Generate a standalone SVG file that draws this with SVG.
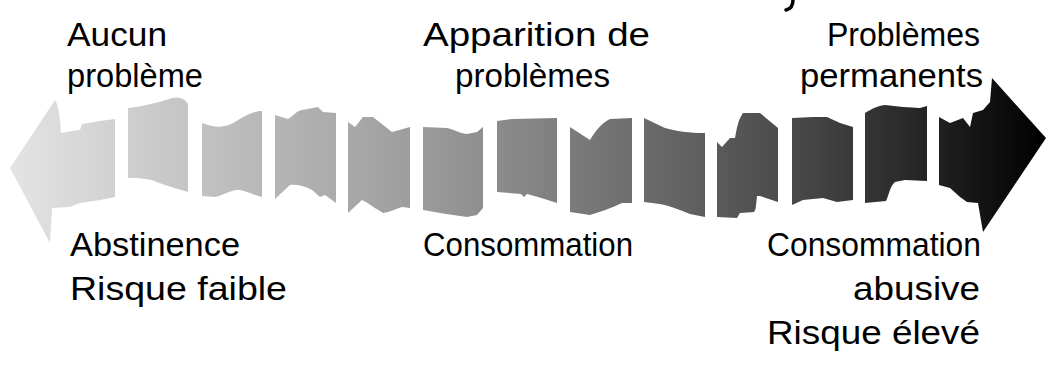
<svg xmlns="http://www.w3.org/2000/svg" width="1046" height="368" viewBox="0 0 1046 368">
  <defs>
    <linearGradient id="grad" gradientUnits="userSpaceOnUse" x1="10" y1="0" x2="1046" y2="0">
      <stop offset="0" stop-color="#e4e4e4"/>
      <stop offset="0.145" stop-color="#c9c9c9"/>
      <stop offset="0.357" stop-color="#a3a3a3"/>
      <stop offset="0.502" stop-color="#858585"/>
      <stop offset="0.642" stop-color="#646464"/>
      <stop offset="0.78" stop-color="#434343"/>
      <stop offset="0.857" stop-color="#2c2c2c"/>
      <stop offset="1" stop-color="#000000"/>
    </linearGradient>
    <style>
      .seg { fill: url(#grad); stroke: none; }
      .t { font-family: "Liberation Sans", Arial, sans-serif; font-size: 34px; fill: #000; }
    </style>
  </defs>
  <rect width="1046" height="368" fill="#ffffff"/>

  <g id="arrow">
    <path class="seg" d="M55,100 C58,104 60,115 61,133 L72,131 L80,130 L82,124 L100,121 L115,119 L115,197 L100,200 L80,203 L70,207 L52,208 L50,243 L10,168 Z"/>
    <path class="seg" d="M128,108 C145,106 160,102 172,98 C180,96 186,100 188,104 L188,192 C175,188 160,184 152,180 L138,178 L128,178 Z"/>
    <path class="seg" d="M202,123 C215,128 225,128 235,122 C245,115 255,111 262,111 L262,197 C250,194 245,190 238,190 C230,190 222,196 215,197 L202,196 Z"/>
    <path class="seg" d="M275,115 L288,119 C292,117 296,111 302,110 L318,107 L323,112 L336,113 L336,203 L325,195 L320,197 L312,190 C305,186 296,184 290,185 L275,199 Z"/>
    <path class="seg" d="M348,122 L355,127 L363,117 L373,117 L392,132 L410,127 L410,208 L402,207 C395,209 390,212 383,213 C378,210 372,206 366,202 L362,200 L348,213 Z"/>
    <path class="seg" d="M423,127 L447,128 C455,130 462,134 467,134 L477,132 L483,127 L483,208 L477,215 L467,217 C458,216 448,214 440,213 L423,210 Z"/>
    <path class="seg" d="M497,121 L512,119 L557,118 L557,203 C545,199 535,196 527,194 L524,197 L521,194 L497,192 Z"/>
    <path class="seg" d="M570,127 L590,140 C595,132 600,124 610,119 L632,118 L632,203 L622,203 C612,208 600,212 590,215 L570,212 Z"/>
    <path class="seg" d="M644,118 L665,128 C675,131 690,133 705,133 L705,217 L690,214 C680,210 670,206 660,204 L644,202 Z"/>
    <path class="seg" d="M717,142 L722,147 L730,138 L735,138 C737,128 738,120 743,113 L760,113 L778,128 L778,202 L760,196 L757,196 C756,205 756,210 754,212 L740,213 L737,218 L717,217 Z"/>
    <path class="seg" d="M792,118 L813,117 L827,117 L840,123 L853,127 L853,200 L837,202 L823,198 L803,200 L792,205 Z"/>
    <path class="seg" d="M865,113 C870,110 876,106 885,105 L903,107 L920,108 L927,106 L927,181 L905,180 L895,182 C890,186 889,195 886,201 L865,203 Z"/>
    <path class="seg" d="M939,117 L950,123 L963,118 L970,127 L973,113 L983,110 L990,102 L992,78 L1046,138 L983,232 L978,203 L967,202 L960,197 L950,188 L939,185 Z"/>
  </g>

  <g id="fragment">
    <path d="M793,0 C793,5 791,9 786,10" fill="none" stroke="#000" stroke-width="3.5" stroke-linecap="round"/>
  </g>

  <g id="label-aucun">
    <text class="t" x="67" y="46" textLength="100" lengthAdjust="spacingAndGlyphs">Aucun</text>
    <text class="t" x="67" y="87" textLength="136" lengthAdjust="spacingAndGlyphs">problème</text>
  </g>
  <g id="label-apparition">
    <text class="t" x="423" y="46" textLength="227" lengthAdjust="spacingAndGlyphs">Apparition de</text>
    <text class="t" x="455" y="87" textLength="155" lengthAdjust="spacingAndGlyphs">problèmes</text>
  </g>
  <g id="label-permanents">
    <text class="t" x="827" y="46" textLength="153" lengthAdjust="spacingAndGlyphs">Problèmes</text>
    <text class="t" x="800" y="87" textLength="183" lengthAdjust="spacingAndGlyphs">permanents</text>
  </g>
  <g id="label-abstinence">
    <text class="t" x="70" y="256" textLength="170" lengthAdjust="spacingAndGlyphs">Abstinence</text>
    <text class="t" x="70" y="300" textLength="217" lengthAdjust="spacingAndGlyphs">Risque faible</text>
  </g>
  <g id="label-consommation">
    <text class="t" x="423" y="256" textLength="210" lengthAdjust="spacingAndGlyphs">Consommation</text>
  </g>
  <g id="label-abusive">
    <text class="t" x="767" y="256" textLength="214" lengthAdjust="spacingAndGlyphs">Consommation</text>
    <text class="t" x="853" y="300" textLength="127" lengthAdjust="spacingAndGlyphs">abusive</text>
    <text class="t" x="767" y="344" textLength="213" lengthAdjust="spacingAndGlyphs">Risque élevé</text>
  </g>
</svg>
